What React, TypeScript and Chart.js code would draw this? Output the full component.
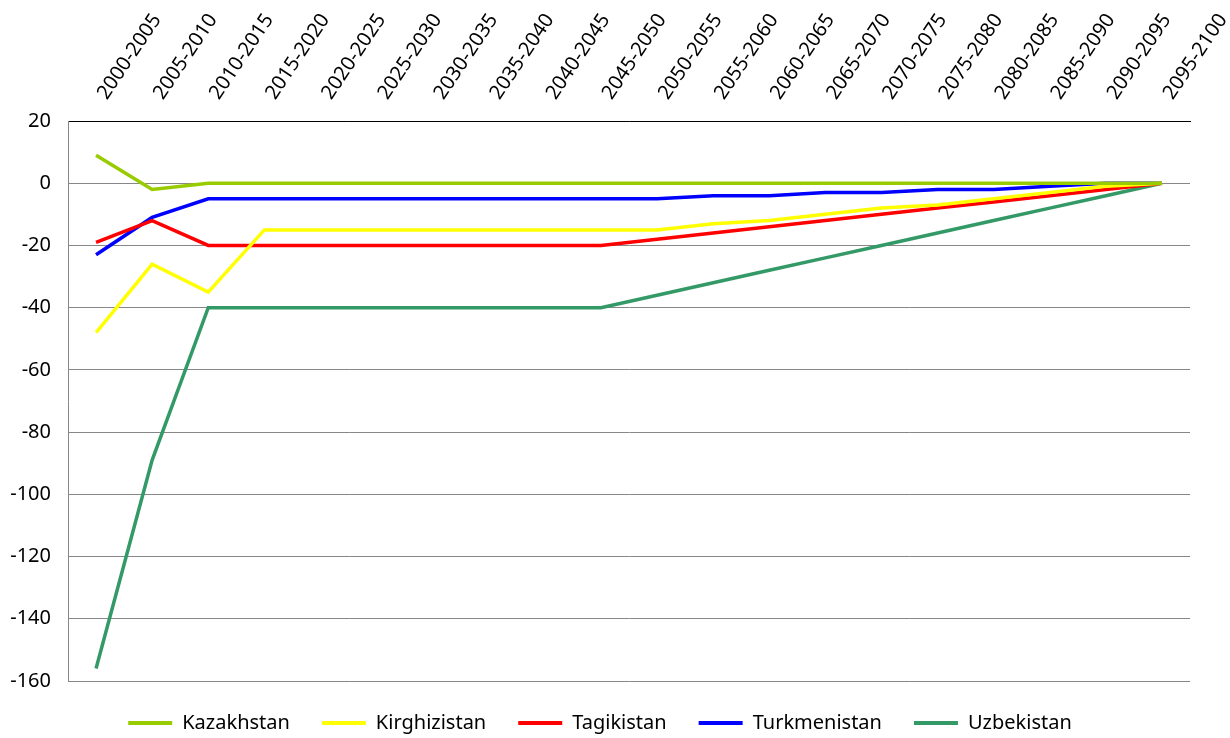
import React, { useEffect, useRef } from 'react';
import { Chart, registerables } from 'chart.js';

Chart.register(...registerables);

const categories = [
  '2000-2005', '2005-2010', '2010-2015', '2015-2020', '2020-2025',
  '2025-2030', '2030-2035', '2035-2040', '2040-2045', '2045-2050',
  '2050-2055', '2055-2060', '2060-2065', '2065-2070', '2070-2075',
  '2075-2080', '2080-2085', '2085-2090', '2090-2095', '2095-2100',
];

const kazakhstan = [9, -2, 0, 0, 0, 0, 0, 0, 0, 0, 0, 0, 0, 0, 0, 0, 0, 0, 0, 0];
const kirghizistan = [-48, -26, -35, -15, -15, -15, -15, -15, -15, -15, -15, -13, -12, -10, -8, -7, -5, -3, -1, 0];
const tagikistan = [-19, -12, -20, -20, -20, -20, -20, -20, -20, -20, -18, -16, -14, -12, -10, -8, -6, -4, -2, 0];
const turkmenistan = [-23, -11, -5, -5, -5, -5, -5, -5, -5, -5, -5, -4, -4, -3, -3, -2, -2, -1, 0, 0];
const uzbekistan = [-156, -89, -40, -40, -40, -40, -40, -40, -40, -40, -36, -32, -28, -24, -20, -16, -12, -8, -4, 0];

const seriesNames = ['Kazakhstan', 'Kirghizistan', 'Tagikistan', 'Turkmenistan', 'Uzbekistan'];
const seriesColors = ['#99CC00', '#FFFF00', '#FF0000', '#0000FF', '#339966'];
const seriesValues = [kazakhstan, kirghizistan, tagikistan, turkmenistan, uzbekistan];

const yMin = -160;
const yMax = 20;
const yStep = 20;

const FONT = '"Noto Sans", "Open Sans", sans-serif';

export default function App() {
  const canvasRef = useRef<HTMLCanvasElement | null>(null);

  useEffect(() => {
    if (!canvasRef.current) return;
    const chart = new Chart(canvasRef.current, {
      type: 'line',
      data: {
        labels: categories,
        datasets: seriesNames.map((name, i) => ({
          label: name,
          data: seriesValues[i],
          borderColor: seriesColors[i],
          backgroundColor: seriesColors[i],
          borderWidth: 3.5,
          pointRadius: 0,
          pointHoverRadius: 0,
          tension: 0,
          fill: false,
        })),
      },
      options: {
        responsive: false,
        animation: false,
        layout: { padding: { left: 10, right: 40, top: 0, bottom: -5 } },
        plugins: {
          tooltip: { enabled: false },
          legend: {
            position: 'bottom',
            labels: {
              boxWidth: 44,
              boxHeight: 4,
              padding: 32,
              color: '#000000',
              font: { family: FONT, size: 20 },
              generateLabels: (c: any) =>
                Chart.defaults.plugins.legend.labels.generateLabels(c).map((item: any) => ({
                  ...item,
                  lineWidth: 0,
                })),
            },
          },
        },
        scales: {
          x: {
            position: 'top',
            offset: true,
            grid: { display: false, drawTicks: false },
            border: { display: true, color: '#000000', width: 1 },
            ticks: {
              minRotation: 56,
              maxRotation: 56,
              autoSkip: false,
              padding: 17,
              labelOffset: 26,
              color: '#000000',
              font: { family: FONT, size: 20 },
            },
            afterFit: (scale: any) => {
              scale.height = 121;
              scale.paddingLeft = 0;
              scale.paddingRight = 0;
            },
          },
          y: {
            min: yMin,
            max: yMax,
            grid: { color: '#878787', lineWidth: 1, drawTicks: false },
            border: { display: true, color: '#878787', width: 1 },
            ticks: {
              stepSize: yStep,
              padding: 17,
              color: '#000000',
              font: { family: FONT, size: 20 },
            },
            afterFit: (scale: any) => {
              scale.width = 58;
            },
          },
        },
      },
    });
    return () => chart.destroy();
  }, []);

  return (
    <div style={{ position: 'fixed', left: 0, top: 0, width: 1230, height: 738, background: '#ffffff' }}>
      <canvas ref={canvasRef} width={1230} height={738} />
    </div>
  );
}
